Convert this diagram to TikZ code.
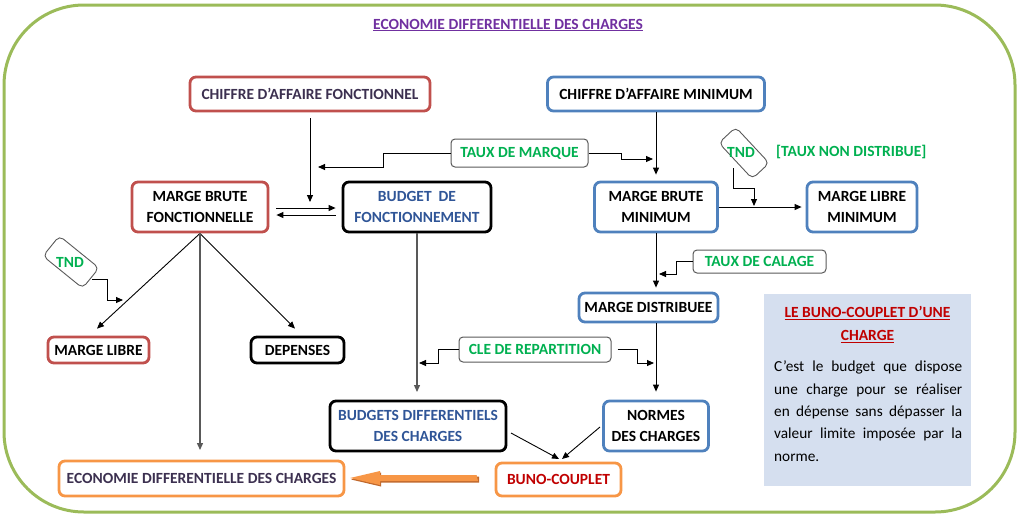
\documentclass[tikz,border=0pt]{standalone}
\usepackage{fontspec}
\setmainfont{Carlito}
\usetikzlibrary{arrows.meta,shapes.geometric}
\definecolor{cRed}{HTML}{C0504D}
\definecolor{cBlue}{HTML}{4F81BD}
\definecolor{cOrange}{HTML}{F79646}
\definecolor{cOrangeDk}{HTML}{C0682C}
\definecolor{cGreen}{HTML}{00B050}
\definecolor{cPurple}{HTML}{7030A0}
\definecolor{cNavy}{HTML}{2F5597}
\definecolor{cDark}{HTML}{3C3050}
\definecolor{cDarkRed}{HTML}{C00000}
\definecolor{cInfo}{HTML}{D5DFEF}
\definecolor{cFrame}{HTML}{9BBB59}
\definecolor{cLine}{HTML}{595959}
\newcommand\fsz{\fontsize{15.5}{21}\selectfont}
\newcommand\fsb{\fontsize{15.3}{22.3}\selectfont}
\begin{document}
\begin{tikzpicture}[x=1pt,y=-1pt,
  box/.style={draw, rounded corners=6pt, line width=2.8pt, inner sep=0pt, align=center, font=\bfseries\fsz},
  redbox/.style={box, draw=cRed},
  bluebox/.style={box, draw=cBlue},
  blackbox/.style={box, draw=black},
  orangebox/.style={box, draw=cOrange},
  tagbox/.style={draw=cLine, line width=1pt, rounded corners=4pt, inner sep=0pt, text=cGreen, font=\bfseries\fsz},
  tndshape/.style={draw=cLine, line width=0.9pt, rounded corners=5pt, inner sep=0pt},
  arr/.style={-{Triangle[length=7pt,width=6pt]}, line width=0.9pt},
  garr/.style={arr, draw=cLine, line width=1.3pt}]
\useasboundingbox (0,0) rectangle (1020,520);
% frame
\draw[cFrame, line width=3pt, rounded corners=80pt] (4,5) rectangle (1015,512);
% title
\node[font=\bfseries\fontsize{15.5}{18}\selectfont, text=cPurple] (title) at (508,25) {\underline{ECONOMIE DIFFERENTIELLE DES CHARGES}};
% nodes
\node[redbox, text=cDark, minimum width=240, minimum height=34] (caf) at (310,94) {CHIFFRE D’AFFAIRE FONCTIONNEL};
\node[bluebox, minimum width=217, minimum height=34] (cam) at (656,94) {CHIFFRE D’AFFAIRE MINIMUM};
\node[tagbox, minimum width=137, minimum height=28] (tdm) at (519.5,153) {TAUX DE MARQUE};
\node[redbox, minimum width=136, minimum height=50] (mbf) at (200,207) {MARGE BRUTE\\FONCTIONNELLE};
\node[blackbox, text=cNavy, minimum width=148, minimum height=50] (bf) at (417,207) {BUDGET~ DE\\FONCTIONNEMENT};
\node[bluebox, minimum width=123, minimum height=50] (mbm) at (656,207) {MARGE BRUTE\\MINIMUM};
\node[bluebox, minimum width=110, minimum height=50] (mlm) at (862,207) {MARGE LIBRE\\MINIMUM};
\node[redbox, minimum width=101, minimum height=26] (ml) at (98.5,350) {MARGE LIBRE};
\node[blackbox, minimum width=93, minimum height=26] (dep) at (297.5,350) {DEPENSES};
\node[tagbox, minimum width=133, minimum height=23] (tdc) at (759.5,261.5) {TAUX DE CALAGE};
\node[bluebox, minimum width=139, minimum height=29] (md) at (648.5,307.5) {MARGE DISTRIBUEE};
\node[tagbox, minimum width=152, minimum height=25] (cle) at (535,349.5) {CLE DE REPARTITION};
\node[blackbox, text=cNavy, minimum width=176, minimum height=50] (bdc) at (418,426) {BUDGETS DIFFERENTIELS\\DES CHARGES};
\node[bluebox, minimum width=105, minimum height=50] (ndc) at (656,426) {NORMES\\DES CHARGES};
\node[orangebox, text=cDark, minimum width=285, minimum height=35] (eco) at (201.5,478.5) {ECONOMIE DIFFERENTIELLE DES CHARGES};
\node[orangebox, text=cDarkRed, minimum width=125, minimum height=33] (buno) at (558.5,479.5) {BUNO-COUPLET};
% TND shapes
\node[tndshape, minimum width=51, minimum height=26, rotate=-39] (tndL) at (71,262) {};
\node[font=\bfseries\fsz, text=cGreen] (tndLt) at (70,262) {TND};
\node[tndshape, minimum width=49, minimum height=23, rotate=-47] (tndR) at (744,153) {};
\node[font=\bfseries\fsz, text=cGreen] (tndRt) at (741,152) {TND};
\node[font=\bfseries\fsz, text=cGreen, anchor=west, inner sep=0] (tnd) at (776,152) {[TAUX NON DISTRIBUE]};
% info box
\node[fill=cInfo, minimum width=207, minimum height=192, inner sep=0] (info) at (867.5,390) {};
\node[font=\bfseries\fontsize{15.5}{23}\selectfont, text=cDarkRed, align=center] (infot) at (867.5,324.5) {\underline{LE BUNO-COUPLET D’UNE}\\\underline{CHARGE}};
\node[font=\fsb, text width=188pt, align=justify, anchor=north west, inner sep=0] (infob) at (774,361) {C’est le budget que dispose\linebreak une charge pour se réaliser\linebreak en dépense sans dépasser la\linebreak valeur limite imposée par la\linebreak norme.};
% coordinates
\coordinate (pA) at (318,167);
\coordinate (pB) at (653,159);
\coordinate (pC) at (310,202);
\coordinate (pL1) at (92,279);
\coordinate (pL2) at (123,300);
\coordinate (pR1) at (733,168);
\coordinate (pR2) at (754,206);
\coordinate (pT) at (659,274);
\coordinate (pCL) at (419,363);
\coordinate (pCR) at (654,363);
\coordinate (pE) at (200,450);
\coordinate (bA) at (511,433);
\coordinate (bB) at (559,459);
\coordinate (nA) at (600,427);
\coordinate (nB) at (562,459);
\coordinate (pBD) at (417,392);
% connectors
\draw[arr] ([yshift=-6pt]caf.south) -- (pC);
\draw[arr] (tdm.west) -- (383,153) -- (383,167) -- (pA);
\draw[arr] (tdm.east) -- (621,153) -- (621,159) -- (pB);
\draw[arr] (cam.south) -- ([yshift=6pt]mbm.north);
\draw[arr] ([xshift=7pt,yshift=-1pt]mbf.east) -- ([xshift=-6pt,yshift=-1pt]bf.west);
\draw[arr] ([xshift=-6pt,yshift=-8pt]bf.west) -- ([xshift=7pt,yshift=-8pt]mbf.east);
\draw[arr] (mbf.south) -- ([xshift=-1.5pt,yshift=7pt]ml.north);
\draw[arr] (mbf.south) -- ([xshift=-2.5pt,yshift=7pt]dep.north);
\draw[garr] (mbf.south) -- (pE);
\draw[garr] (bf.south) -- (pBD);
\draw[arr] (pL1) -- (107,279) -- (107,300) -- (pL2);
\draw[arr] (pR1) -- (733,188) -- (754,188) -- (pR2);
\draw[arr] (mbm.east) -- ([xshift=-4pt]mlm.west);
\draw[arr] (mbm.south) -- ([yshift=4pt]md.north -| mbm.south);
\draw[arr] (tdc.west) -- (676,261.5) -- (676,274) -- (pT);
\draw[arr] (md.south -| mbm.south) -- ([yshift=8pt]ndc.north);
\draw[arr] (cle.west) -- (438,349.5) -- (438,363) -- (pCL);
\draw[arr] ([xshift=6pt]cle.east) -- (637,349.5) -- (637,363) -- (pCR);
\draw[arr] (bA) -- (bB);
\draw[arr] (nA) -- (nB);
% big orange arrow
\fill[cOrangeDk] (479,476.5) -- (381,476.5) -- (381,472.5) -- (351,479.5) -- (381,486.5) -- (381,482.5) -- (479,482.5) -- cycle;
\fill[cOrange] ([xshift=-18pt,yshift=4.5pt]buno.west) coordinate (oa) -- (380,475) -- (380,471) -- (350,478) -- (380,485) -- (380,481) -- (478,481) -- cycle;
\end{tikzpicture}
\end{document}
